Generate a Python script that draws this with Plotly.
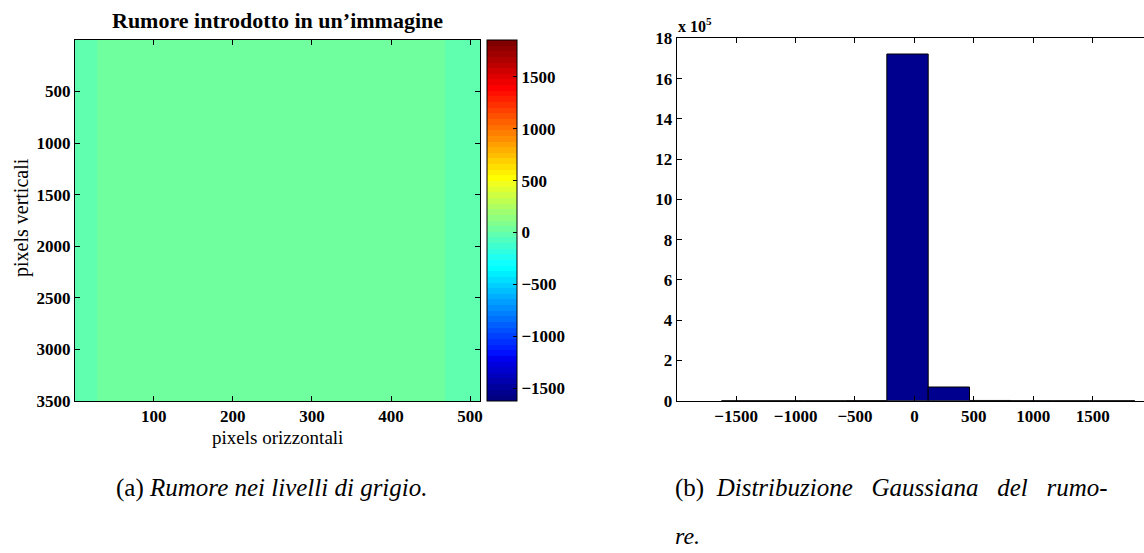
import plotly.graph_objects as go

W, H = 1144, 553

# ---------------- data ----------------
# coarse estimate of the noise image (rows top->bottom, blocks of pixels)
col_edges = [0.5, 28.5, 128.5, 256.5, 384.5, 468.5, 512.5]
row_edges = [0.5, 875.5, 1750.5, 2625.5, 3500.5]
noise = [
    [-5, 18, 22, 24, 18, -8],
    [-5, 20, 26, 28, 20, -8],
    [-5, 22, 30, 30, 22, -8],
    [-5, 20, 28, 28, 20, -8],
]
noise_min, noise_max = -1623, 1855

# histogram of the noise (10 bins between min and max)
hist_counts = [5, 15, 60, 400, 1722000, 68000, 1200, 250, 50, 20]

xticks_img = [100, 200, 300, 400, 500]
yticks_img = [500, 1000, 1500, 2000, 2500, 3000, 3500]
cbar_ticks = [-1500, -1000, -500, 0, 500, 1000, 1500]
xticks_hist = [-1500, -1000, -500, 0, 500, 1000, 1500]
yticks_hist = [0, 2e5, 4e5, 6e5, 8e5, 10e5, 12e5, 14e5, 16e5, 18e5]
yticks_hist_text = ["0", "2", "4", "6", "8", "10", "12", "14", "16", "18"]

# ---------------- MATLAB jet(64) stepped colorscale ----------------
def jet64():
    n = 16
    u = [j / n for j in range(1, n + 1)] + [1.0] * (n - 1) + [j / n for j in range(n, 0, -1)]
    def uu(j):
        return u[j - 1] if 1 <= j <= len(u) else 0.0
    cols = []
    for k in range(1, 65):
        g = uu(k - 8) if 9 <= k <= 55 else 0.0
        r = uu(k - 24) if k >= 25 else 0.0
        b = uu(k + 7) if k <= 39 else 0.0
        cols.append("rgb(%d,%d,%d)" % (round(r * 255), round(g * 255), round(b * 255)))
    scale = []
    for i, c in enumerate(cols):
        scale.append([i / 64, c])
        scale.append([(i + 1) / 64, c])
    return scale

jet = jet64()

FONT = "Liberation Serif"
tickfont = dict(family=FONT, size=17, color="black", weight="bold")

fig = go.Figure()

fig.add_trace(go.Heatmap(
    x=col_edges, y=row_edges, z=noise,
    zmin=noise_min, zmax=noise_max, colorscale=jet, zsmooth=False,
    xaxis="x", yaxis="y",
    colorbar=dict(
        x=486.7 / W, xanchor="left", xpad=0, ypad=0,
        y=1 - 40 / H, yanchor="top", len=361 / H, lenmode="fraction",
        thickness=30, thicknessmode="pixels",
        outlinewidth=1, outlinecolor="black",
        ticks="inside", ticklen=4, tickcolor="black",
        tickvals=cbar_ticks, tickfont=tickfont,
    ),
))

nb = len(hist_counts)
bw = (noise_max - noise_min) / nb
centers = [noise_min + bw * (i + 0.5) for i in range(nb)]
fig.add_trace(go.Bar(
    x=centers, y=hist_counts, width=bw,
    marker=dict(color="rgb(0,0,143)", line=dict(color="black", width=1)),
    xaxis="x2", yaxis="y2", showlegend=False,
))

axcommon = dict(showline=True, linecolor="black", linewidth=1, ticks="inside",
                ticklen=5, tickcolor="black", showgrid=False, zeroline=False,
                tickfont=tickfont, automargin=False)

fig.update_layout(
    width=W, height=H,
    margin=dict(l=0, r=0, t=0, b=0, pad=0, autoexpand=False),
    paper_bgcolor="white", plot_bgcolor="white",
    showlegend=False,
    xaxis=dict(domain=[75 / W, 480 / W], range=[0.5, 512.5], tickvals=xticks_img,
               mirror="ticks", anchor="y", **axcommon),
    yaxis=dict(domain=[1 - 401 / H, 1 - 40 / H], range=[3500.5, 0.5], tickvals=yticks_img,
               mirror="ticks", anchor="x", **axcommon),
    xaxis2=dict(domain=[676.7 / W, 1], range=[-2000, 1932], tickvals=xticks_hist,
                mirror="ticks", anchor="y2", **axcommon),
    yaxis2=dict(domain=[1 - 400.7 / H, 1 - 38.3 / H], range=[0, 18e5], tickvals=yticks_hist,
                ticktext=yticks_hist_text, mirror=False, anchor="x2", **axcommon),
)

def ann(text, x, y, size, xanchor="center", weight="normal", angle=0, family=FONT):
    fig.add_annotation(text=text, x=x / W, y=1 - y / H, xref="paper", yref="paper",
                       xanchor=xanchor, yanchor="middle", showarrow=False, textangle=angle,
                       font=dict(family=family, size=size, color="black", weight=weight))

NB = "\u00a0"
ann("Rumore introdotto in un’immagine", 277, 20, 22, weight="bold")
ann("pixels verticali", 21, 218, 20, angle=-90)
ann("pixels orizzontali", 277, 437, 19)
ann("x 10<sup>5</sup>", 676, 25, 16, xanchor="left", weight="bold")
ann("(a) <i>Rumore nei livelli di grigio.</i>", 272, 488, 25)
ann("(b)" + NB * 2 + "<i>Distribuzione" + NB * 3 + "Gaussiana" + NB * 3 + "del" + NB * 3 + "rumo-</i>",
    673, 488, 25, xanchor="left")
ann("<i>re.</i>", 673, 536, 24, xanchor="left")

fig.write_html("out.html")
